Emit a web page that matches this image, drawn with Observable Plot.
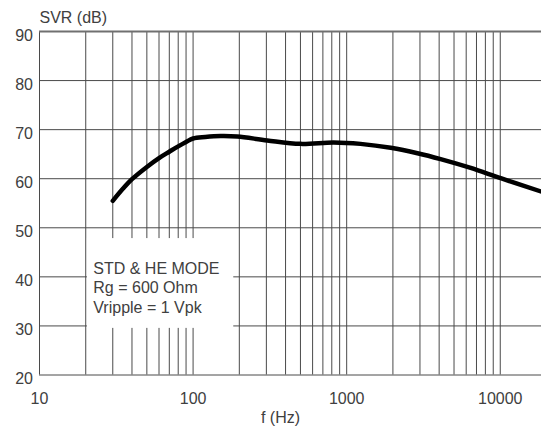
<!DOCTYPE html>
<html>
<head>
<meta charset="utf-8">
<script src="https://cdn.jsdelivr.net/npm/d3@7"></script>
<script src="https://cdn.jsdelivr.net/npm/@observablehq/plot@0.6"></script>
<style>
  html, body { margin: 0; padding: 0; background: #fff; overflow: hidden; }
</style>
</head>
<body>
<div id="chart"></div>
<script>
// Data
const freq = [30, 35, 40, 50, 60, 70, 80, 90, 100, 120, 151, 194, 304, 500, 822, 1230, 1936, 2890, 4090, 6420, 10070, 18400];
const svr  = [55.5, 58.0, 59.9, 62.4, 64.2, 65.5, 66.6, 67.5, 68.2, 68.5, 68.7, 68.6, 67.8, 67.1, 67.4, 67.1, 66.3, 65.2, 64.0, 62.2, 60.1, 57.4];

const xTicks = [10, 100, 1000, 10000];
const yTicks = [20, 30, 40, 50, 60, 70, 80, 90];
const xGrid = [10,20,30,40,50,60,70,80,90,100,200,300,400,500,600,700,800,900,1000,2000,3000,4000,5000,6000,7000,8000,9000,10000,20000];

const annotLines = ["STD & HE MODE", "Rg = 600 Ohm", "Vripple = 1 Vpk"];
const annotBox = [{x1: 20.5, x2: 184, y1: 29.5, y2: 47.8}];
const annotPos = [{x: 22.4, y: 43.3}];

const data = freq.map((f, i) => ({f, v: svr[i]}));
const textColor = "#404040";
const gridColor = "#4a4a4a";

const chart = Plot.plot({
  width: 541,
  height: 428,
  marginTop: 31,
  marginBottom: 53.5,
  marginLeft: 39,
  marginRight: 0,
  style: {fontFamily: "'Liberation Sans', Arial, sans-serif", fontSize: "16px", color: textColor, background: "#fff"},
  x: {type: "log", domain: [10, 20000], range: [39, 546]},
  y: {domain: [20, 90]},
  marks: [
    Plot.ruleX(xGrid, {y1: 20, y2: 90, stroke: gridColor, strokeWidth: 1}),
    Plot.ruleY(yTicks.filter(d => d !== 90), {x1: 10, x2: 20000, stroke: gridColor, strokeWidth: 1}),
    Plot.ruleY([90], {x1: 10, x2: 20000, stroke: "#707070", strokeWidth: 2}),
    Plot.rect(annotBox, {x1: "x1", x2: "x2", y1: "y1", y2: "y2", fill: "white"}),
    Plot.line(data, {x: "f", y: "v", stroke: "black", strokeWidth: 4.5, curve: "catmull-rom", strokeLinejoin: "round", strokeLinecap: "round"}),
    Plot.text(annotPos, {x: "x", y: "y", text: () => annotLines.join("\n"), textAnchor: "start", lineAnchor: "top", lineHeight: 1.2, fill: textColor, fontSize: 16}),
    Plot.axisX(xTicks, {tickSize: 0, tickPadding: 18, tickFormat: d => String(d), fill: textColor, fontSize: 16, label: null}),
    Plot.axisY(yTicks, {tickSize: 0, tickPadding: 6.5, dy: 4, fill: textColor, fontSize: 16, label: null}),
    Plot.text(["SVR (dB)"], {frameAnchor: "top-left", dy: -9, textAnchor: "start", lineAnchor: "bottom", fill: textColor, fontSize: 16}),
    Plot.text(["f (Hz)"], {frameAnchor: "bottom-left", dx: 241, dy: 48, textAnchor: "middle", lineAnchor: "bottom", fill: textColor, fontSize: 16})
  ]
});
document.getElementById("chart").appendChild(chart);
</script>
</body>
</html>
